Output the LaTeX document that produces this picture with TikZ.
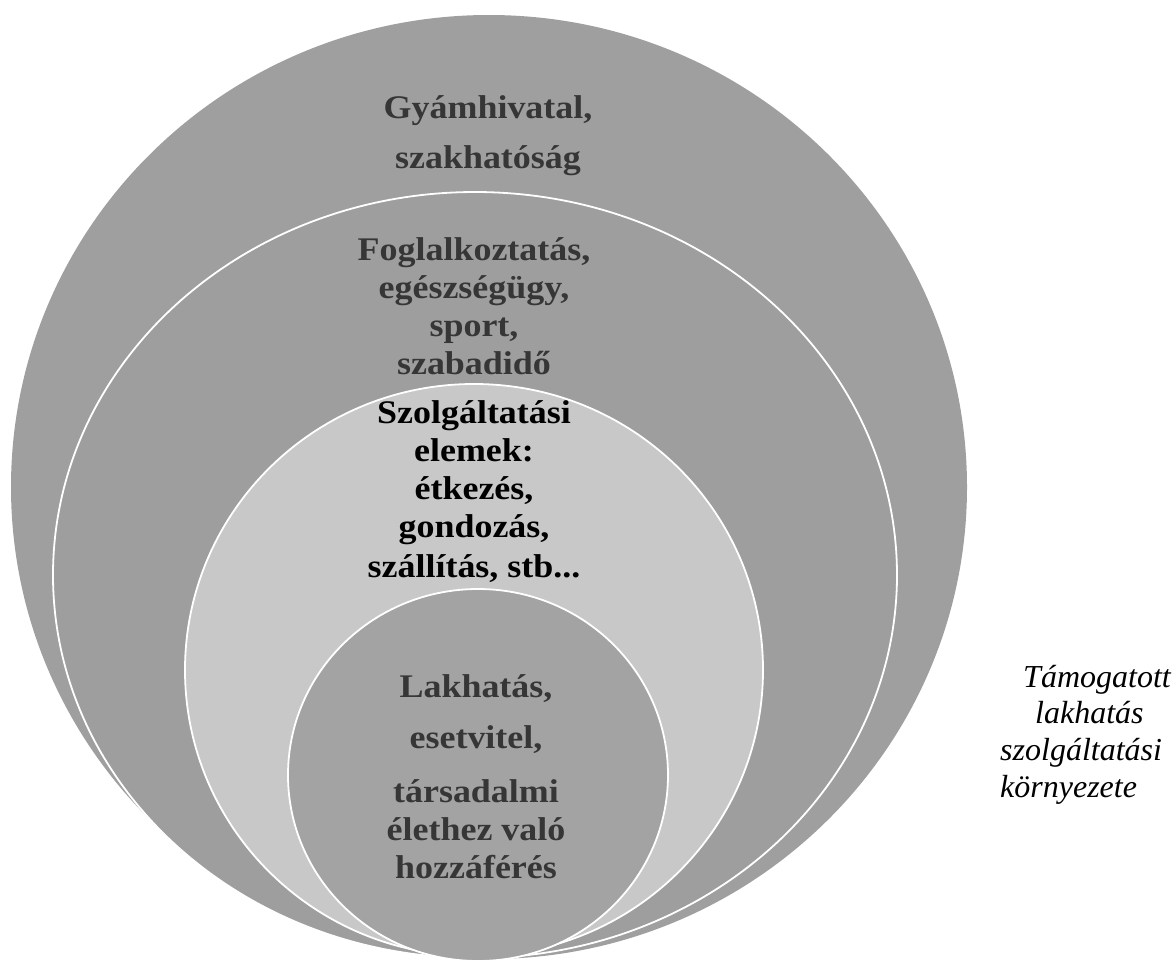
\documentclass[tikz,border=0pt]{standalone}
\usepackage{fontspec}
\setmainfont{Liberation Serif}[FakeStretch=1.09]
\newfontfamily\envfont{Liberation Serif}
\definecolor{outergray}{HTML}{9F9F9F}
\definecolor{midgray}{HTML}{9E9E9E}
\definecolor{lightgray2}{HTML}{C8C8C8}
\definecolor{innergray}{HTML}{A3A3A3}
\definecolor{labeldark}{HTML}{363636}
\tikzset{
  ring/.style={draw=white, line width=1.8pt},
  lbl/.style={inner sep=0pt, anchor=base, text=labeldark,
    font=\fontsize{33}{38}\selectfont\bfseries},
  lblblack/.style={lbl, text=black},
  envtext/.style={inner sep=0pt, anchor=base west, text=black,
    font=\envfont\itshape\fontsize{32}{36.7}\selectfont}
}
\begin{document}
\begin{tikzpicture}[x=1pt,y=-1pt]
\useasboundingbox (0,0) rectangle (1176,962);
% nested shapes
\fill[outergray] (489,487) ellipse [x radius=478pt, y radius=472pt];
\filldraw[fill=midgray, ring] (475,575) ellipse [x radius=422pt, y radius=383pt];
\filldraw[fill=lightgray2, ring] (474,670) ellipse [x radius=289pt, y radius=286pt];
\filldraw[fill=innergray, ring] (478,775) ellipse [x radius=190pt, y radius=186pt];
% labels
\node[lbl] (gyam) at (488,118) {\parbox[t]{320pt}{\centering Gyámhivatal,\\[12pt]szakhatóság}};
\node[lbl] (fog) at (474,260) {\parbox[t]{320pt}{\centering Foglalkoztatás,\\egészségügy,\\sport,\\szabadidő}};
\node[lblblack] (szolg) at (474,423) {\parbox[t]{320pt}{\centering Szolgáltatási\\[0.7pt]elemek:\\étkezés,\\gondozás,\\[2pt]szállítás, stb...}};
\node[lbl] (lak) at (476,697) {\parbox[t]{320pt}{\centering Lakhatás,\\[13pt]esetvitel,\\[16pt]társadalmi\\élethez való\\hozzáférés}};
\node[envtext] (env) at (1000,687) {\parbox[t]{176pt}{\raggedright\hspace*{23pt}Támogatott\\\hspace*{35pt}lakhatás\\szolgáltatási\\környezete}};
\end{tikzpicture}
\end{document}
